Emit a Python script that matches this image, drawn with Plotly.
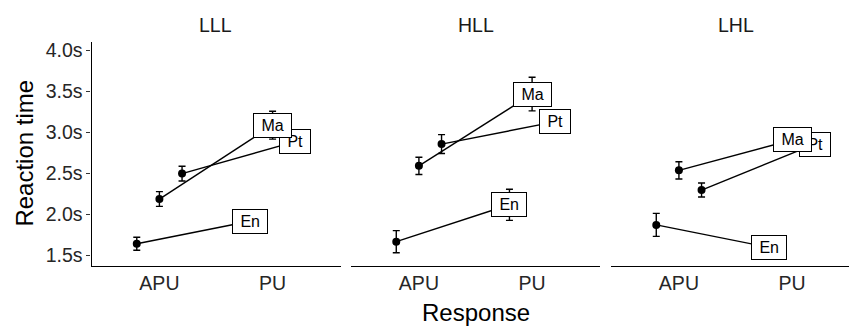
import plotly.graph_objects as go

# ---- data ----
conditions = ["LLL", "HLL", "LHL"]
responses = ["APU", "PU"]
languages = ["En", "Ma", "Pt"]

lll_apu = [1.645, 2.19, 2.50]
lll_pu = [1.92, 3.09, 2.89]
lll_apu_se = [0.08, 0.09, 0.09]
lll_pu_se = [0.05, 0.17, 0.06]

hll_apu = [1.67, 2.595, 2.86]
hll_pu = [2.12, 3.47, 3.13]
hll_apu_se = [0.135, 0.105, 0.115]
hll_pu_se = [0.19, 0.205, 0.08]

lhl_apu = [1.875, 2.54, 2.30]
lhl_pu = [1.60, 2.91, 2.86]
lhl_apu_se = [0.14, 0.105, 0.085]
lhl_pu_se = [0.05, 0.06, 0.06]

y_tick_vals = [1.5, 2.0, 2.5, 3.0, 3.5, 4.0]
y_tick_text = ["1.5s", "2.0s", "2.5s", "3.0s", "3.5s", "4.0s"]

panel_apu = [lll_apu, hll_apu, lhl_apu]
panel_pu = [lll_pu, hll_pu, lhl_pu]
panel_apu_se = [lll_apu_se, hll_apu_se, lhl_apu_se]
panel_pu_se = [lll_pu_se, hll_pu_se, lhl_pu_se]

# ---- layout constants ----
W, H = 849, 328
FONT = "Liberation Sans, Arial, Helvetica, sans-serif"
dodge = {"En": -0.2, "Ma": 0.0, "Pt": 0.2}
label_order = ["En", "Pt", "Ma"]  # Ma drawn on top
panel_px = [(91.5, 340.5), (351.0, 600.0), (611.0, 860.0)]
unit = (panel_px[0][1] - panel_px[0][0]) / 2.2
y_top_px, y_bot_px = 40.0, 266.0
y_range = [1.379, 4.109]

fig = go.Figure()
annotations = []

for p, cond in enumerate(conditions):
    xa = "x" if p == 0 else f"x{p+1}"
    ya = "y" if p == 0 else f"y{p+1}"
    for li, lang in enumerate(languages):
        xs = [i + 1 + dodge[lang] for i in range(len(responses))]
        ys = [panel_apu[p][li], panel_pu[p][li]]
        es = [panel_apu_se[p][li], panel_pu_se[p][li]]
        fig.add_trace(go.Scatter(
            x=xs, y=ys, xaxis=xa, yaxis=ya, mode="lines+markers",
            line=dict(color="black", width=1.4),
            marker=dict(color="black", size=8),
            error_y=dict(type="data", array=es, visible=True,
                         color="black", thickness=1.4, width=3.5),
            showlegend=False, hoverinfo="skip"))
    for lang in label_order:
        li = languages.index(lang)
        annotations.append(dict(
            x=2 + dodge[lang], y=panel_pu[p][li], xref=xa, yref=ya,
            text="\u00a0" + lang + "\u00a0", showarrow=False,
            font=dict(family=FONT, size=16, color="black"),
            bgcolor="white", bordercolor="black", borderwidth=1,
            borderpad=3, xanchor="center", yanchor="middle"))
    # facet title
    cx = (panel_px[p][0] + panel_px[p][1]) / 2
    annotations.append(dict(
        x=cx / W, y=1 - 23 / H, xref="paper", yref="paper",
        text=cond, showarrow=False, xanchor="center", yanchor="middle",
        font=dict(family=FONT, size=19.5, color="#1a1a1a")))

# axis titles
annotations.append(dict(
    x=(panel_px[0][0] + panel_px[2][1]) / 2 / W, y=1 - 313 / H,
    xref="paper", yref="paper", text="Response", showarrow=False,
    xanchor="center", yanchor="middle",
    font=dict(family=FONT, size=24, color="black")))
annotations.append(dict(
    x=25 / W, y=1 - ((y_top_px + y_bot_px) / 2) / H,
    xref="paper", yref="paper", text="Reaction time", showarrow=False,
    textangle=-90, xanchor="center", yanchor="middle",
    font=dict(family=FONT, size=24, color="black")))

ydom = [1 - y_bot_px / H, 1 - y_top_px / H]
layout = dict(
    width=W, height=H, margin=dict(l=0, r=0, t=0, b=0),
    paper_bgcolor="white", plot_bgcolor="white",
    annotations=annotations, font=dict(family=FONT),
)
for p in range(3):
    left, right = panel_px[p]
    x0 = left / W
    x1 = min(right, W) / W
    xmax = 0.4 + (min(right, W) - left) / unit
    xk = "xaxis" if p == 0 else f"xaxis{p+1}"
    yk = "yaxis" if p == 0 else f"yaxis{p+1}"
    layout[xk] = dict(
        domain=[x0, x1], range=[0.4, xmax], anchor="y" if p == 0 else f"y{p+1}",
        tickvals=[1, 2], ticktext=responses, ticks="",
        showline=True, linecolor="black", linewidth=1.2,
        showgrid=False, zeroline=False,
        tickfont=dict(family=FONT, size=19.5, color="#262626"),
        fixedrange=True)
    layout[yk] = dict(
        domain=ydom, range=y_range, anchor="x" if p == 0 else f"x{p+1}",
        tickvals=y_tick_vals, ticktext=y_tick_text,
        showgrid=False, zeroline=False, fixedrange=True,
        showline=(p == 0), linecolor="black", linewidth=1.2,
        ticks="outside" if p == 0 else "", ticklen=4, tickcolor="#333333",
        tickwidth=1.2, showticklabels=(p == 0),
        tickfont=dict(family=FONT, size=19.5, color="#262626"))

fig.update_layout(**layout)
fig.write_html("out.html", config={"displayModeBar": False})
